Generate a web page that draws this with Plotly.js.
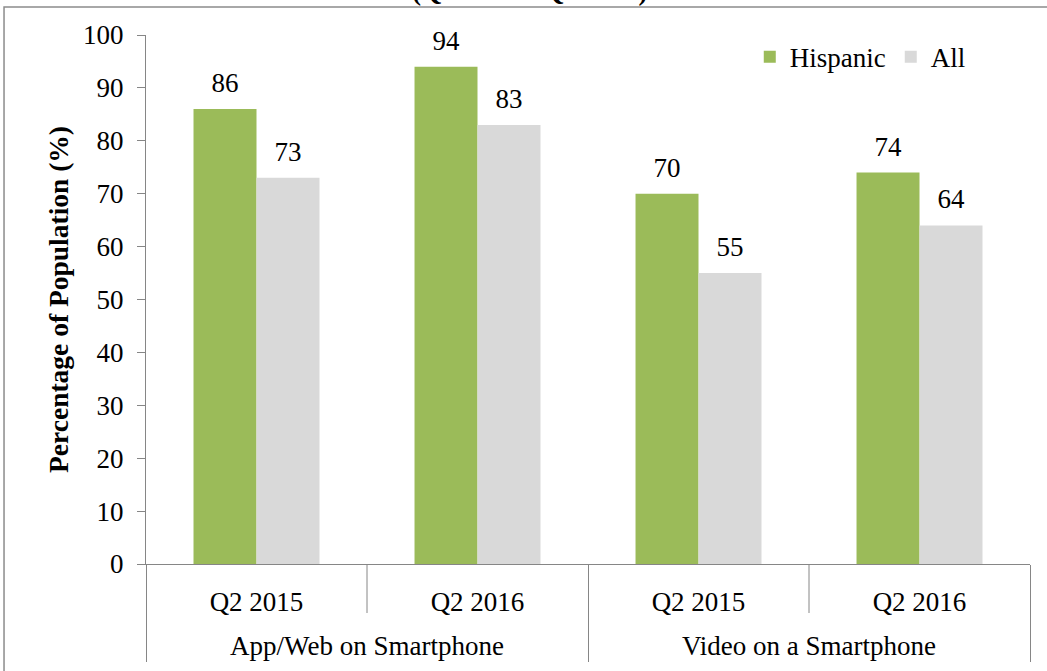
<!DOCTYPE html>
<html>
<head>
<meta charset="utf-8">
<script src="https://cdn.plot.ly/plotly-3.0.1.min.js"></script>
<style>
  html, body { margin: 0; padding: 0; background: #ffffff; }
  #chart { width: 1047px; height: 671px; }
</style>
</head>
<body>
<div id="chart"></div>
<script>
// ---- data ----
var groups = ["App/Web on Smartphone", "App/Web on Smartphone", "Video on a Smartphone", "Video on a Smartphone"];
var periods = ["Q2 2015", "Q2 2016", "Q2 2015", "Q2 2016"];
var hispanicValues = [86, 94, 70, 74];
var allValues = [73, 83, 55, 64];
var seriesNames = ["Hispanic", "All"];
var yTitle = "Percentage of Population (%)";
var chartTitle = "(Q2 2015 \u2013 Q2 2016)";

var FONT = "'Liberation Serif', 'Times New Roman', serif";
var GREY = "#868686";
// invisible tall spacers used only to pad the label boxes
var PAD64 = '<span style="font-size:64px">\u00a0</span>';
var PAD51 = '<span style="font-size:51px">\u00a0</span>';

function barTrace(name, values, color) {
  return {
    type: "bar",
    name: name,
    x: [groups, periods],
    y: values,
    marker: { color: color },
    texttemplate: PAD64 + "%{y}" + PAD64,
    textposition: "outside",
    constraintext: "none",
    cliponaxis: false,
    textfont: { family: FONT, size: 27, color: "#000000" },
    hoverinfo: "y"
  };
}

var traces = [
  barTrace(seriesNames[0], hispanicValues, "#9BBB59"),
  barTrace(seriesNames[1], allValues, "#D9D9D9")
];

var layout = {
  width: 1047,
  height: 671,
  margin: { l: 146, r: 17, t: 35, b: 107 },
  paper_bgcolor: "#ffffff",
  plot_bgcolor: "#ffffff",
  font: { family: FONT, size: 27, color: "#000000" },
  barmode: "group",
  bargap: 0.43,
  bargroupgap: 0,
  showlegend: true,
  title: {
    text: "<b>" + chartTitle + "</b>",
    font: { family: FONT, size: 27, color: "#000000" },
    xref: "container", x: 0.506, xanchor: "center",
    yref: "container", y: 1.0, yanchor: "bottom"
  },
  legend: {
    orientation: "h",
    x: 0.683, xanchor: "left",
    y: 0.958, yanchor: "middle",
    bgcolor: "rgba(0,0,0,0)",
    font: { family: FONT, size: 27, color: "#000000" },
    traceorder: "normal"
  },
  xaxis: {
    type: "multicategory",
    showline: true,
    linecolor: GREY,
    linewidth: 1,
    ticks: "",
    tickson: "boundaries",
    ticklabelstandoff: 14,
    tickprefix: PAD51,
    ticksuffix: PAD51,
    showdividers: true,
    dividercolor: GREY,
    dividerwidth: 1,
    showgrid: false,
    zeroline: false,
    tickfont: { family: FONT, size: 27, color: "#000000" },
    automargin: false
  },
  yaxis: {
    range: [0, 100],
    dtick: 10,
    tick0: 0,
    showline: true,
    linecolor: GREY,
    linewidth: 1,
    ticks: "outside",
    ticklen: 8,
    tickcolor: GREY,
    ticklabelstandoff: 8,
    showgrid: false,
    zeroline: false,
    tickfont: { family: FONT, size: 27, color: "#000000" },
    automargin: false,
    title: {
      text: "<b>" + yTitle + "</b>",
      font: { family: FONT, size: 27.5, color: "#000000" },
      standoff: 6
    }
  },
  shapes: [
    { type: "line", xref: "paper", yref: "paper", x0: 0.25, x1: 0.25, y0: 0, y1: -0.0926, line: { color: GREY, width: 1 } },
    { type: "line", xref: "paper", yref: "paper", x0: 0.75, x1: 0.75, y0: 0, y1: -0.0926, line: { color: GREY, width: 1 } },
    { type: "rect", xref: "paper", yref: "paper", x0: -0.1606, x1: 1.2, y0: -0.5, y1: 1.0529, line: { color: "#8c8c8c", width: 1.5 }, fillcolor: "rgba(0,0,0,0)", layer: "below" }
  ]
};

Plotly.newPlot("chart", traces, layout, { displayModeBar: false, staticPlot: true });
</script>
</body>
</html>
